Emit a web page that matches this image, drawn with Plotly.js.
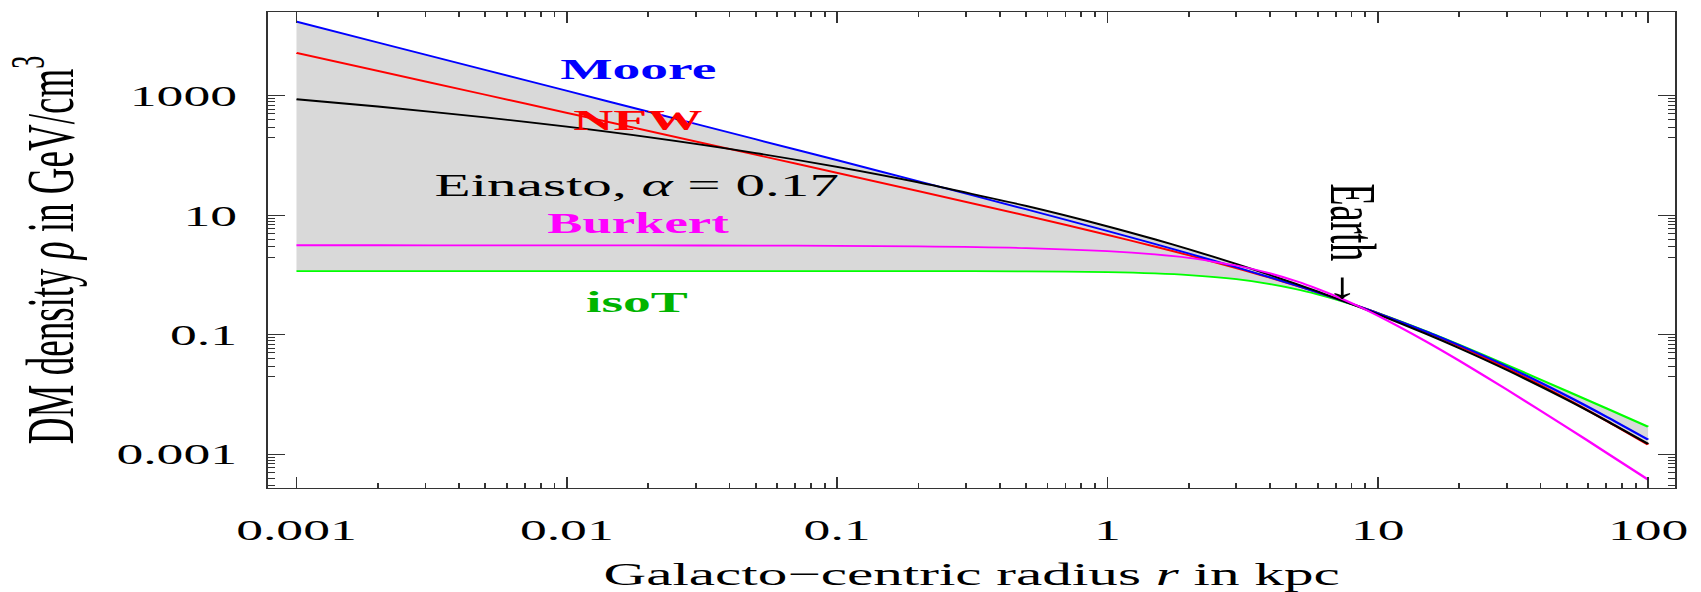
<!DOCTYPE html>
<html>
<head>
<meta charset="utf-8">
<script src="https://cdn.plot.ly/plotly-3.0.1.min.js"></script>
<style>
html,body{margin:0;padding:0;background:#fff;overflow:hidden;width:1701px;height:592px;}
#wrap{width:920px;height:592px;transform:scaleX(1.848913);transform-origin:0 0;}
</style>
</head>
<body>
<div id="wrap"></div>
<script>
// Galacto-centric radius r in kpc
const radius = [0.001, 0.002, 0.005, 0.01, 0.02, 0.05, 0.1, 0.2, 0.5, 1, 1.5, 2, 3, 4, 5, 6, 7, 8.5, 10, 15, 20, 30, 50, 70, 100];
// DM density in GeV/cm^3
const moore   = [17500, 7850, 2720, 1218, 545, 188, 84.0, 37.3, 12.65, 5.48, 3.32, 2.30, 1.355, 0.916, 0.668, 0.512, 0.406, 0.300, 0.2306, 0.1148, 0.0672, 0.0297, 0.00955, 0.00428, 0.00176];
const nfw     = [5250, 2620, 1045, 521, 260, 103.5, 51.5, 25.5, 9.90, 4.72, 3.00, 2.15, 1.311, 0.903, 0.666, 0.513, 0.408, 0.301, 0.2311, 0.1132, 0.0650, 0.0277, 0.00849, 0.00367, 0.00145];
const einasto = [880, 665, 438, 305, 203.5, 110.3, 64.8, 35.6, 14.4, 6.56, 3.96, 2.71, 1.537, 1.003, 0.710, 0.530, 0.411, 0.295, 0.2219, 0.1052, 0.0600, 0.0259, 0.00826, 0.00368, 0.00150];
const burkert = [3.16, 3.16, 3.155, 3.15, 3.14, 3.12, 3.09, 3.03, 2.84, 2.52, 2.22, 1.94, 1.448, 1.067, 0.788, 0.587, 0.444, 0.300, 0.2101, 0.0788, 0.0371, 0.01217, 0.00284, 0.00107, 0.000378];
const isoT    = [1.17, 1.17, 1.17, 1.17, 1.17, 1.17, 1.169, 1.168, 1.158, 1.12, 1.066, 1.0, 0.853, 0.707, 0.580, 0.475, 0.392, 0.298, 0.232, 0.116, 0.0682, 0.0314, 0.0115, 0.00589, 0.00290];

const xTickVals = [0.001, 0.01, 0.1, 1, 10, 100];
const xTickText = ["0.001", "0.01", "0.1", "1", "10", "100"];
const yTickVals = [0.001, 0.1, 10, 1000];
const yTickText = ["0.001", "0.1", "10", "1000"];

// minor tick positions
const xMinor = [];
[0.001, 0.01, 0.1, 1, 10].forEach(d => { for (let k = 2; k <= 9; k++) xMinor.push(d * k); });
const yMinor = [];
yTickVals.forEach(d => { for (let k = 2; k <= 9; k++) yMinor.push(d * k / 10); });

// band spanned by the main profiles (Burkert excluded)
const bandSet = [moore, nfw, einasto, isoT];
const bandHi = radius.map((_, i) => Math.max(...bandSet.map(a => a[i])));
const bandLo = radius.map((_, i) => Math.min(...bandSet.map(a => a[i])));

const ln = (c) => ({color: c, width: 1.8, shape: 'spline', smoothing: 0.6});
const traces = [
  {x: radius, y: bandLo, mode: 'lines', line: {width: 0, shape: 'spline', smoothing: 0.6}, hoverinfo: 'skip', showlegend: false},
  {x: radius, y: bandHi, mode: 'lines', line: {width: 0, shape: 'spline', smoothing: 0.6}, fill: 'tonexty', fillcolor: '#d9d9d9', hoverinfo: 'skip', showlegend: false},
  {x: radius, y: isoT, mode: 'lines', name: 'isoT', line: ln('#00ff00')},
  {x: radius, y: nfw, mode: 'lines', name: 'NFW', line: ln('#ff0000')},
  {x: radius, y: moore, mode: 'lines', name: 'Moore', line: ln('#0000ff')},
  {x: radius, y: einasto, mode: 'lines', name: 'Einasto', line: ln('#000000')},
  {x: radius, y: burkert, mode: 'lines', name: 'Burkert', line: ln('#ff00ff')}
];

const serif = '"Liberation Serif", "Times New Roman", serif';
const axisCommon = {
  type: 'log', showgrid: false, zeroline: false,
  showline: true, linecolor: '#333', linewidth: 1, mirror: 'ticks',
  ticks: 'inside', tickcolor: '#333', tickwidth: 1,
  tickmode: 'array'
};

const layout = {
  width: 920, height: 592,
  margin: {l: 145, r: 14, t: 12, b: 104},
  paper_bgcolor: '#ffffff', plot_bgcolor: '#ffffff',
  showlegend: false,
  font: {family: serif, color: '#000000'},
  xaxis: Object.assign({}, axisCommon, {
    range: [-3.105, 2.1],
    tickvals: xTickVals, ticktext: xTickText, ticklen: 11,
    tickfont: {family: serif, size: 29, color: '#000'},
    ticklabelstandoff: 16,
    minor: {tickmode: 'array', tickvals: xMinor, ticks: 'inside', ticklen: 5, tickcolor: '#333', tickwidth: 1, showgrid: false},
    title: {text: 'Galacto\u2212centric radius <i>r</i> in kpc', font: {family: serif, size: 32, color: '#000'}, standoff: 28}
  }),
  yaxis: Object.assign({}, axisCommon, {
    range: [-3.564, 4.405],
    tickvals: yTickVals, ticktext: yTickText, ticklen: 9,
    tickfont: {family: serif, size: 29, color: '#000'},
    ticklabelstandoff: 10,
    minor: {tickmode: 'array', tickvals: yMinor, ticks: 'inside', ticklen: 4, tickcolor: '#333', tickwidth: 1, showgrid: false},
    title: {text: 'DM density <i>ρ</i> in GeV/cm<sup>3</sup>\u00a0\u00a0\u00a0\u00a0', font: {family: serif, size: 37, color: '#000'}, standoff: 11}
  }),
  annotations: [
    {xref: 'x', yref: 'y', x: -1.739, y: 3.463, text: '<b>Moore</b>', showarrow: false, font: {family: serif, size: 30, color: '#0000ff'}},
    {xref: 'x', yref: 'y', x: -1.739, y: 2.602, text: '<b>NFW</b>', showarrow: false, font: {family: serif, size: 30, color: '#ff0000'}},
    {xref: 'x', yref: 'y', x: -1.742, y: 1.506, text: 'Einasto, <i>α</i> = 0.17', showarrow: false, font: {family: serif, size: 32, color: '#000000'}},
    {xref: 'x', yref: 'y', x: -1.735, y: 0.862, text: '<b>Burkert</b>', showarrow: false, font: {family: serif, size: 28.5, color: '#ff00ff'}},
    {xref: 'x', yref: 'y', x: -1.740, y: -0.443, text: '<b>isoT</b>', showarrow: false, font: {family: serif, size: 30, color: '#00b400'}},
    {xref: 'x', yref: 'y', x: 0.908, y: 0.502, text: 'Earth \u2192', textangle: 90, showarrow: false, font: {family: serif, size: 36, color: '#000000'}}
  ]
};

Plotly.newPlot('wrap', traces, layout, {displayModeBar: false, staticPlot: true});
</script>
</body>
</html>
